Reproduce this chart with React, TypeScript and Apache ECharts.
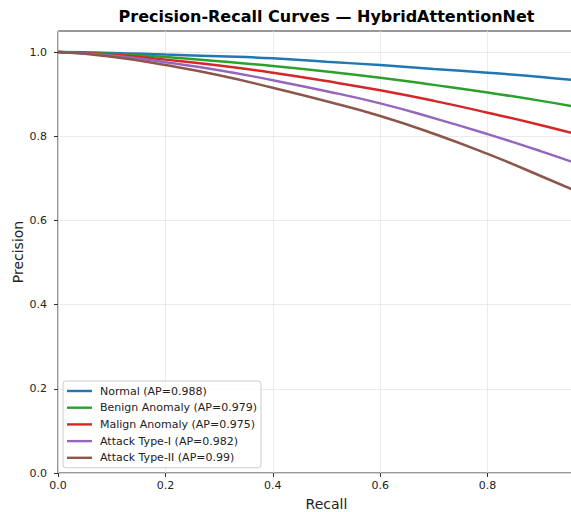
import React, { useEffect, useRef } from "react";
import * as echarts from "echarts";

const recall = [0, 0.1, 0.2, 0.3, 0.4, 0.5, 0.6, 0.7, 0.8, 0.9, 1.0];
const normal = [1.0, 0.998, 0.994, 0.99, 0.985, 0.977, 0.969, 0.96, 0.951, 0.941, 0.928];
const benign = [1.0, 0.996, 0.988, 0.978, 0.967, 0.954, 0.939, 0.922, 0.904, 0.884, 0.862];
const malign = [1.0, 0.994, 0.982, 0.968, 0.951, 0.931, 0.909, 0.884, 0.856, 0.826, 0.793];
const attack1 = [1.0, 0.992, 0.976, 0.957, 0.933, 0.907, 0.878, 0.843, 0.805, 0.764, 0.72];
const attack2 = [1.0, 0.989, 0.969, 0.945, 0.915, 0.883, 0.848, 0.806, 0.758, 0.705, 0.65];

const seriesNames = [
  "Normal (AP=0.988)",
  "Benign Anomaly (AP=0.979)",
  "Malign Anomaly (AP=0.975)",
  "Attack Type-I (AP=0.982)",
  "Attack Type-II (AP=0.99)",
];
const seriesValues = [normal, benign, malign, attack1, attack2];
const colors = ["#1f77b4", "#2ca02c", "#d62728", "#9467bd", "#8c564b"];
const yTicks = [0, 0.2, 0.4, 0.6, 0.8, 1.0];
const xTicks = [0, 0.2, 0.4, 0.6, 0.8, 1.0];
const xLabels = [0, 0.2, 0.4, 0.6, 0.8];

const FONT = "DejaVu Sans";

export default function App() {
  const ref = useRef<HTMLDivElement>(null);
  useEffect(() => {
    if (!ref.current) return;
    const chart = echarts.init(ref.current, undefined, { renderer: "svg" });
    const fmt = (v: number) =>
      Math.abs(v * 5 - Math.round(v * 5)) > 1e-6 ? "" : v.toFixed(1);
    chart.setOption({
      animation: false,
      backgroundColor: "#ffffff",
      textStyle: { fontFamily: FONT },
      graphic: [
        {
          type: "text",
          x: 326.5,
          y: 8,
          style: {
            text: "Precision-Recall Curves — HybridAttentionNet",
            textAlign: "center",
            textVerticalAlign: "top",
            font: `bold 16px "${FONT}"`,
            fill: "#000",
          },
        },
      ],
      grid: {
        left: 58,
        top: 31,
        bottom: 39,
        right: 25,
        show: true,
        borderColor: "#333",
        borderWidth: 1,
        backgroundColor: "transparent",
        containLabel: false,
        outerBoundsMode: "none",
      },
      legend: {
        orient: "vertical",
        left: 63,
        top: 381,
        padding: [4, 4, 4, 4],
        itemWidth: 25,
        itemHeight: 12,
        itemGap: 4.7,
        icon: "path://M0,0H25V2.4H0Z",
        backgroundColor: "rgba(255,255,255,0.8)",
        borderColor: "#cccccc",
        borderWidth: 1,
        borderRadius: 3,
        textStyle: {
          fontFamily: FONT,
          fontSize: 11,
          color: "#222",
          lineHeight: 12,
          padding: [0, 0, 0, 3],
        },
        data: seriesNames,
      },
      xAxis: {
        type: "value",
        min: 0,
        max: 1,
        interval: 0.2,
        name: "Recall",
        nameLocation: "middle",
        nameGap: 24,
        nameMoveOverlap: false,
        nameTextStyle: { fontFamily: FONT, fontSize: 14, color: "#222" },
        axisLine: { show: false },
        axisTick: {
          show: true,
          length: 4,
          lineStyle: { color: "#333", width: 1 },
          customValues: xTicks,
        },
        axisLabel: {
          fontFamily: FONT,
          fontSize: 11,
          color: "#222",
          margin: 7,
          formatter: fmt,
          customValues: xLabels,
        },
        splitLine: { show: true, lineStyle: { color: "#e6e6e6", width: 0.8 } },
      },
      yAxis: {
        type: "value",
        min: 0,
        max: 1.05,
        interval: 0.2,
        name: "Precision",
        nameLocation: "middle",
        nameGap: 33,
        nameMoveOverlap: false,
        nameRotate: 90,
        nameTextStyle: { fontFamily: FONT, fontSize: 14, color: "#222" },
        axisLine: { show: false },
        axisTick: {
          show: true,
          length: 4,
          lineStyle: { color: "#333", width: 1 },
          customValues: yTicks,
        },
        axisLabel: {
          fontFamily: FONT,
          fontSize: 11,
          color: "#222",
          margin: 11,
          formatter: fmt,
          customValues: yTicks,
        },
        splitLine: { show: true, lineStyle: { color: "#e6e6e6", width: 0.8 } },
      },
      series: seriesNames.map((name, i) => ({
        name,
        type: "line",
        data: recall.map((r, j) => [r, seriesValues[i][j]]),
        smooth: 0.5,
        symbol: "none",
        showSymbol: false,
        clip: true,
        color: colors[i],
        itemStyle: { color: colors[i] },
        lineStyle: { color: colors[i], width: 2.5 },
        z: 3 + i,
      })),
    });
    return () => chart.dispose();
  }, []);
  return (
    <div style={{ position: "fixed", left: 0, top: 0, width: 571, height: 512, overflow: "hidden", background: "#fff" }}>
      <div ref={ref} style={{ width: 620, height: 512 }} />
    </div>
  );
}
